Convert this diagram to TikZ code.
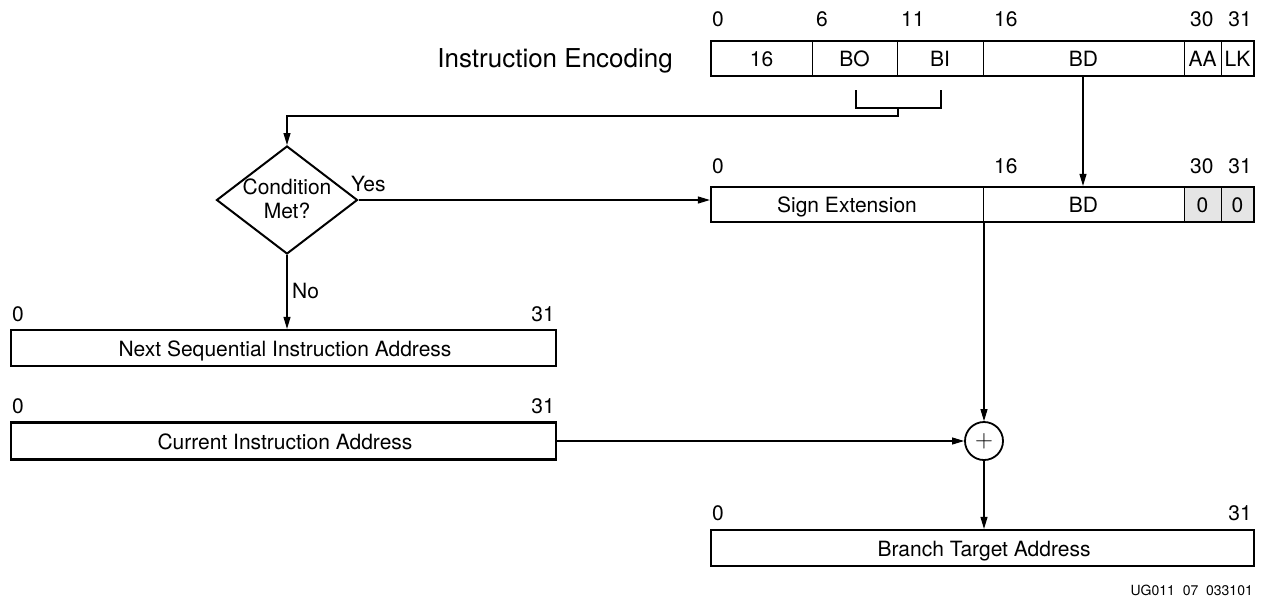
\documentclass[tikz,border=0pt]{standalone}
\usepackage{fontspec}
\setmainfont{TeX Gyre Heros}
\usetikzlibrary{arrows.meta,shapes.geometric}
\begin{document}
\begin{tikzpicture}[x=1pt,y=-1pt,
  every node/.style={font=\fontsize{21}{24}\selectfont},
  regbox/.style={draw,line width=2.2pt,inner sep=0pt},
  divider/.style={line width=0.9pt},
  conn/.style={line width=1.1pt},
  arr/.style={conn,-{Triangle[length=12pt,width=7pt]}},
  bitlbl/.style={inner sep=0pt,anchor=base west},
  bitlblr/.style={inner sep=0pt,anchor=base east},
  field/.style={inner sep=0pt,anchor=base},
  graycell/.style={fill=black!10,draw=none}]
\useasboundingbox (0,0) rectangle (1265,606);

% ---------- Instruction encoding ----------
\node[inner sep=0pt,anchor=base east,font=\fontsize{26}{28}\selectfont] (title) at (673,67) {Instruction Encoding};
\node[regbox,minimum width=543pt,minimum height=35pt] (enc) at (982.5,58.5) {};
\draw[divider] (812,41) -- (812,76);
\draw[divider] (897,41) -- (897,76);
\draw[divider] (983,41) -- (983,76);
\draw[divider] (1184,41) -- (1184,76);
\draw[divider] (1221,41) -- (1221,76);
\node[field] (f16) at (761.5,66) {16};
\node[field] (fbo) at (854.5,66) {BO};
\node[field] (fbi) at (940,66) {BI};
\node[field] (fbd) at (1083.5,66) {BD};
\node[field] (faa) at (1202.5,66) {AA};
\node[field] (flk) at (1237.5,66) {LK};
\node[bitlbl] (e0) at (712,26) {0};
\node[bitlbl] (e6) at (816,26) {6};
\node[bitlbl] (e11) at (901,26) {11};
\node[bitlbl] (e16) at (994,26) {16};
\node[bitlbl] (e30) at (1190,26) {30};
\node[bitlblr] (e31) at (1252,26) {31};

% bracket under BO/BI
\coordinate (brkstem) at (898,108);
\draw[conn] (856,90) -- (856,108) -- (941,108) -- (941,90);
\coordinate (bdsrc) at (1083,76);

% ---------- Decision ----------
\node[draw,diamond,line width=2pt,inner sep=0pt,minimum width=141pt,minimum height=108pt] (cond) at (287,200) {};
\node[inner sep=0pt,align=center,font=\fontsize{21}{25}\selectfont] (condtxt) at (287,199) {Condition\\[-1pt]Met?};
\draw[arr] (brkstem) -- (898,116) -| (cond.north);

% ---------- Sign extension ----------
\fill[graycell] (1184,187) rectangle (1254,222);
\node[regbox,minimum width=543pt,minimum height=35pt] (sext) at (982.5,204.5) {};
\draw[divider] (983,187) -- (983,222);
\draw[divider] (1184,187) -- (1184,222);
\draw[divider] (1221,187) -- (1221,222);
\node[field] (fse) at (847,212) {Sign Extension};
\node[field] (fbd2) at (1083.5,212) {BD};
\node[field] (fz1) at (1202.5,212) {0};
\node[field] (fz2) at (1237.5,212) {0};
\node[bitlbl] (s0) at (712,173) {0};
\node[bitlbl] (s16) at (994,173) {16};
\node[bitlbl] (s30) at (1190,173) {30};
\node[bitlblr] (s31) at (1252,173) {31};

\draw[arr] (bdsrc) -- (bdsrc |- sext.north);
\draw[arr] (cond.east) -- (cond.east -| sext.west);
\node[inner sep=0pt,anchor=base west] (yes) at (351,191) {Yes};

% ---------- Next sequential ----------
\node[regbox,minimum width=545pt,minimum height=36pt] (next) at (283.5,348) {};
\node[field] (nexttxt) at (285,356) {Next Sequential Instruction Address};
\node[bitlbl] (n0) at (12,321) {0};
\node[bitlblr] (n31) at (555,321) {31};
\draw[arr] (cond.south) -- (cond.south |- next.north);
\node[inner sep=0pt,anchor=base west] (no) at (292,298) {No};

% ---------- Current ----------
\node[regbox,minimum width=545pt,minimum height=37pt] (cur) at (283.5,441) {};
\node[field] (curtxt) at (285,449) {Current Instruction Address};
\node[bitlbl] (c0) at (12,413) {0};
\node[bitlblr] (c31) at (555,413) {31};

% ---------- Adder ----------
\node[draw,circle,line width=1.8pt,minimum size=38pt,inner sep=0pt,font=\fontsize{26}{26}\selectfont] (plus) at (984,441) {$+$};
\coordinate (sesrc) at (984,222);
\draw[arr] (sesrc) -- (plus.north);
\draw[arr] (cur.east) -- (plus.west);

% ---------- Branch target ----------
\node[regbox,minimum width=543pt,minimum height=36pt] (bta) at (982.5,548) {};
\node[field] (btatxt) at (984,556) {Branch Target Address};
\node[bitlbl] (b0) at (712,520) {0};
\node[bitlblr] (b31) at (1252,520) {31};
\draw[arr] (plus.south) -- (plus.south |- bta.north);

\node[inner sep=0pt,anchor=base east,font=\fontsize{14}{16}\selectfont] (fig) at (1253,595) {UG011\ \ 07\ \ 033101};
\end{tikzpicture}
\end{document}
